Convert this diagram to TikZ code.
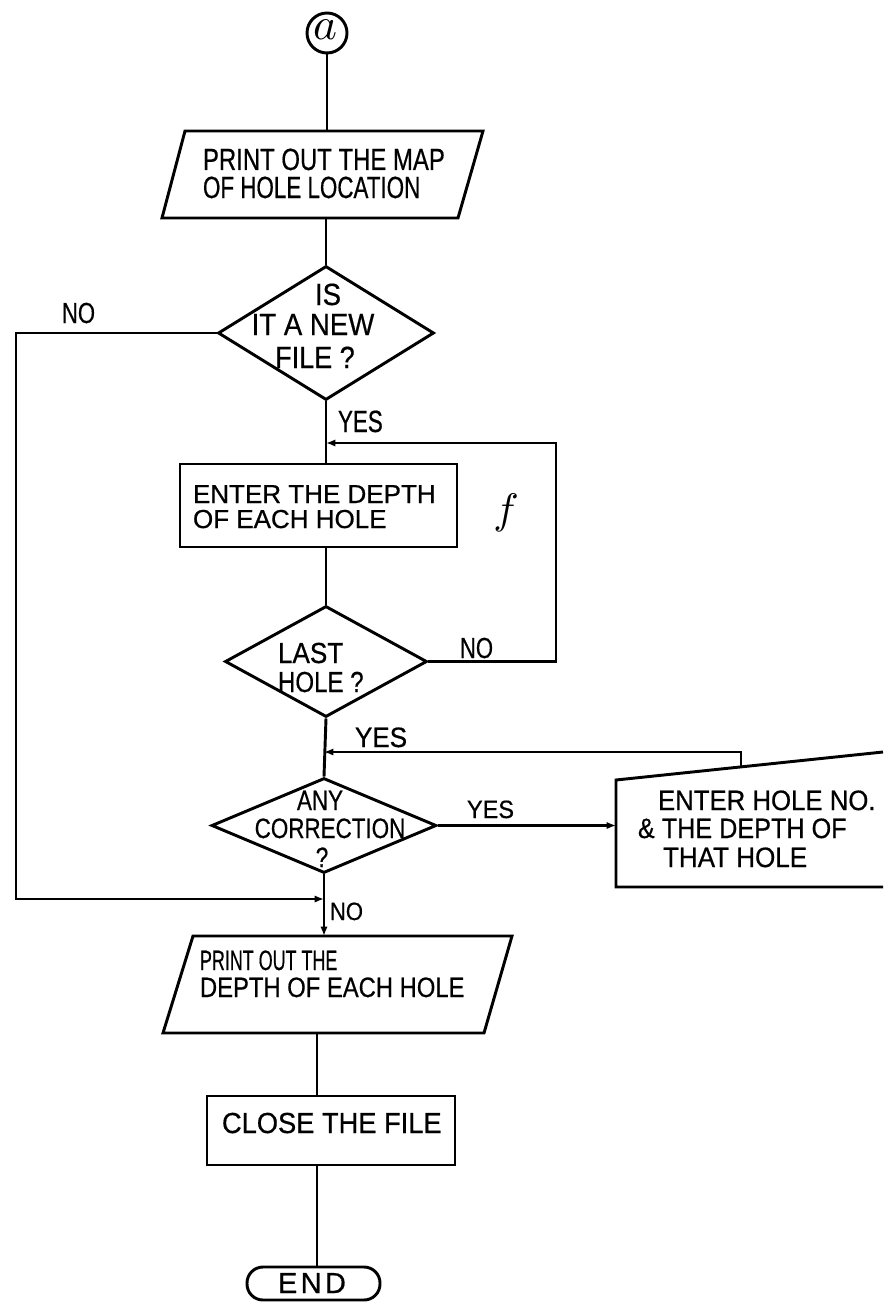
\documentclass[tikz,border=0pt]{standalone}
\usepackage{fontspec}
\setmainfont{Liberation Sans}[FakeBold=0.6]
\usepackage{graphicx}
\usetikzlibrary{arrows.meta,shapes.geometric}
\newcommand{\sx}[2]{\scalebox{#1}[1]{#2}}
\begin{document}
\begin{tikzpicture}[x=0.75pt,y=-0.75pt,
  shp/.style={draw=black,line width=2.2pt,line join=miter},
  cn/.style={draw=black,line width=2.2pt},
  arr/.style={cn,-{Latex[length=7pt,width=5.5pt]}},
  txt/.style={inner sep=0pt,outer sep=0pt,anchor=base west},
  txtc/.style={inner sep=0pt,outer sep=0pt,anchor=base},
  dia/.style={shp,diamond,inner sep=0pt},
  boxs/.style={shp,rectangle,inner sep=0pt},
  fa/.style={font=\fontsize{23pt}{23pt}\selectfont},
  fb/.style={font=\fontsize{21.75pt}{21.75pt}\selectfont},
  fc/.style={font=\fontsize{21pt}{21pt}\selectfont},
  fd/.style={font=\fontsize{19.5pt}{19.5pt}\selectfont},
  fe/.style={font=\fontsize{18.75pt}{18.75pt}\selectfont},
  ]
\useasboundingbox (0,0) rectangle (883,1302);
\fill[white] (0,0) rectangle (883,1302);

% ---------- start connector ----------
\node[shp,circle,minimum size=30pt,inner sep=0pt] (ca) at (327,33) {};
\node[inner sep=0pt] (calbl) at (325,30) {\scalebox{3.4}{$a$}};

% ---------- parallelogram 1 ----------
\coordinate (p1tl) at (185,131);
\coordinate (p1tr) at (483,131);
\coordinate (p1br) at (458,218);
\coordinate (p1bl) at (162,218);
\draw[shp] (p1tl) -- (p1tr) -- (p1br) -- (p1bl) -- cycle;
\coordinate (p1t) at (327,131);
\coordinate (p1b) at (326,218);
\node[txt,fa] (p1a) at (203,170) {\sx{0.78}{PRINT OUT THE MAP}};
\node[txt,fa] (p1c) at (203,198) {\sx{0.73}{OF HOLE LOCATION}};

% ---------- decision 1 ----------
\node[dia,minimum width=162pt,minimum height=100.5pt] (d1) at (326,333) {};
\node[txtc,fa] (d1a) at (328,305) {\sx{0.9}{IS}};
\node[txtc,fa] (d1b) at (313,335) {\sx{0.9}{IT A NEW}};
\node[txtc,fa] (d1c) at (315,368) {\sx{0.88}{FILE ?}};

% ---------- process: enter depth ----------
\node[boxs,minimum width=207.75pt,minimum height=62.25pt] (b2) at (318.5,505.5) {};
\node[txt,fd] (b2a) at (193,503) {ENTER THE DEPTH};
\node[txt,fd] (b2b) at (193,528) {OF EACH HOLE};

% ---------- decision 2 ----------
\node[dia,minimum width=151.5pt,minimum height=83.25pt] (d2) at (326,661.5) {};
\node[txt,fb] (d2a) at (278,663) {\sx{0.9}{LAST}};
\node[txt,fb] (d2b) at (278,692) {\sx{0.83}{HOLE ?}};

% ---------- decision 3 ----------
\node[dia,minimum width=168.75pt,minimum height=71.25pt] (d3) at (324,825.5) {};
\node[txtc,fc] (d3a) at (320,810) {\sx{0.8}{ANY}};
\node[txtc,fc] (d3b) at (330,838) {\sx{0.8}{CORRECTION}};
\node[txtc,fc] (d3c) at (322,867) {\sx{0.8}{?}};

% ---------- manual input ----------
\coordinate (mitr) at (883,752);
\coordinate (mitl) at (616,780);
\coordinate (mibl) at (616,887);
\coordinate (mibr) at (883,887);
\draw[shp] (mitr) -- (mitl) -- (mibl) -- (mibr);
\node[txt,fc] (mia) at (658,810) {\sx{0.92}{ENTER HOLE NO.}};
\node[txt,fc] (mib) at (638,838) {\sx{0.9}{\& THE DEPTH OF}};
\node[txt,fc] (mic) at (663,867) {\sx{0.93}{THAT HOLE}};

% ---------- parallelogram 2 ----------
\coordinate (p2tl) at (193,936);
\coordinate (p2tr) at (512,936);
\coordinate (p2br) at (484,1033);
\coordinate (p2bl) at (163,1033);
\draw[shp] (p2tl) -- (p2tr) -- (p2br) -- (p2bl) -- cycle;
\coordinate (p2t) at (322,936);
\coordinate (p2b) at (317,1033);
\node[txt,fc] (p2a) at (200,970) {\sx{0.64}{PRINT OUT THE}};
\node[txt,fc] (p2c) at (200,997) {\sx{0.85}{DEPTH OF EACH HOLE}};

% ---------- close ----------
\node[boxs,minimum width=186pt,minimum height=51.75pt] (cl) at (331,1130.5) {};
\node[txt,fb] (cla) at (222,1133) {\sx{0.94}{CLOSE THE FILE}};

% ---------- end ----------
\node[shp,rectangle,rounded corners=12pt,minimum width=99.75pt,minimum height=24.75pt,inner sep=0pt] (en) at (313.5,1283.5) {};
\node[txtc,fb] (ena) at (312,1293) {E\hspace{2.5pt}N\hspace{2.5pt}D};

% ---------- stray handwritten mark ----------
\node[inner sep=0pt] (fmark) at (506,513) {\scalebox{3.2}{$f$}};

% ---------- connectors ----------
\draw[cn] (ca.south) -- (p1t);
\draw[cn] (p1b) -- (d1.north);
\draw[cn] (d1.south) -- (d1.south |- b2.north);
\draw[cn] (b2.south -| d2.north) -- (d2.north);
\draw[cn] (d2.south) -- (d3.north);
\draw[arr] (d3.south) -- (d3.south |- p2t);
\draw[cn] (p2b) -- (p2b |- cl.north);
\draw[cn] (cl.south -| p2b) -- (en.north -| p2b);

% NO loop of decision 1
\coordinate (lc) at (16,899);
\draw[arr] (d1.west) -| (lc) -- (lc -| d3.south);
% NO loop of decision 2
\coordinate (rc) at (556,443);
\draw[arr] (d2.east) -| (rc) -- (rc -| d1.south);
% return from manual input
\coordinate (mt) at (741,767);
\coordinate (mc) at (741,752);
\draw[arr] (mt) -- (mc) -- (mc -| d3.north);
% YES of decision 3
\coordinate (mil) at (616,830);
\draw[arr] (d3.east) -- (d3.east -| mil);

% ---------- labels ----------
\node[txt,fb] (no1) at (62,323) {\sx{0.76}{NO}};
\node[txt,fa] (yes1) at (338,432) {\sx{0.73}{YES}};
\node[txt,fb] (no2) at (460,658) {\sx{0.76}{NO}};
\node[txt,fc] (yes2) at (355,747) {\sx{0.93}{YES}};
\node[txt,fe] (yes3) at (467,818) {\sx{0.94}{YES}};
\node[txt,fe] (no3) at (330,920) {\sx{0.88}{NO}};
\end{tikzpicture}
\end{document}
